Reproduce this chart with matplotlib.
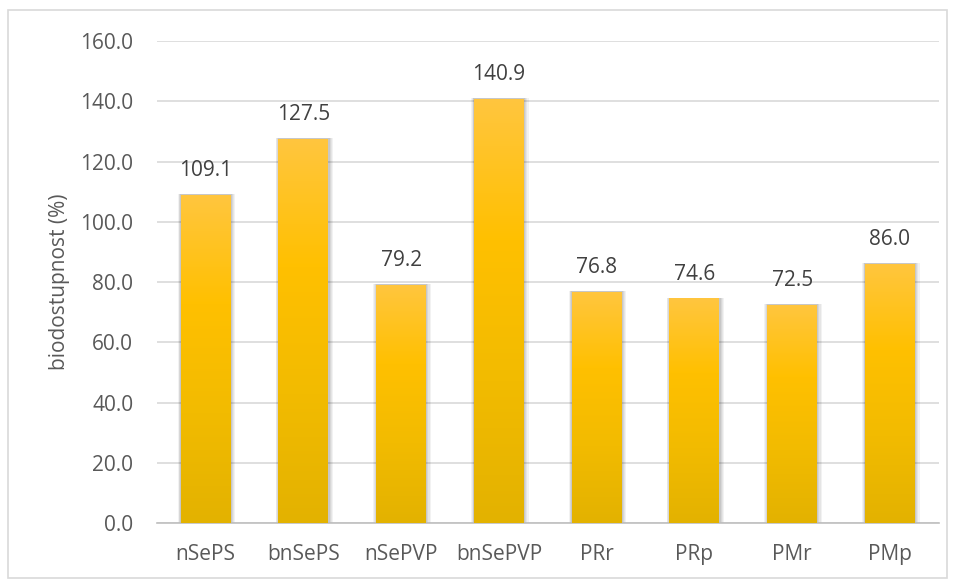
import matplotlib
matplotlib.use("Agg")
import matplotlib.pyplot as plt
import matplotlib.patches as mpatches
from matplotlib.colors import LinearSegmentedColormap
import numpy as np

plt.rcParams["font.family"] = ["Open Sans", "DejaVu Sans"]

# ── Data ─────────────────────────────────────────────────────────────────────
categories = ["nSePS", "bnSePS", "nSePVP", "bnSePVP", "PRr", "PRp", "PMr", "PMp"]
values = [109.1, 127.5, 79.2, 140.9, 76.8, 74.6, 72.5, 86.0]
y_ticks = [0, 20, 40, 60, 80, 100, 120, 140, 160]
y_label = "biodostupnost (%)"

# ── Figure ───────────────────────────────────────────────────────────────────
fig = plt.figure(figsize=(9.56, 5.8), dpi=100)
fig.patch.set_facecolor("white")
ax = fig.add_axes([0.164, 0.098, 0.818, 0.831])

# outer chart border
fig.add_artist(mpatches.Rectangle((8 / 956, 2 / 580), 939 / 956, 568 / 580,
                                  transform=fig.transFigure, fill=False,
                                  edgecolor="#D9D9D9", linewidth=1.2))

grad = LinearSegmentedColormap.from_list(
    "gold", ["#E3B200", "#F2BB00", "#FFC000", "#FFC63F"])
x = np.arange(len(categories))
bar_w = 0.51

bars = ax.bar(x, values, bar_w, color="none", zorder=3)
g = np.linspace(0, 1, 256).reshape(-1, 1)
for b in bars:
    x0, w, h = b.get_x(), b.get_width(), b.get_height()
    # soft shadow
    for k, a in enumerate([0.05, 0.05, 0.06, 0.07]):
        pad = (4 - k) * 0.012
        ax.add_patch(mpatches.Rectangle((x0 - pad * 0.6, 0), w + pad * 1.6, h + 0.3,
                                        facecolor="black", alpha=a, linewidth=0,
                                        zorder=2))
    im = ax.imshow(g, cmap=grad, origin="lower", aspect="auto",
                   extent=(x0, x0 + w, 0, h), zorder=3)
    im.set_clip_path(b)

for xi, v in zip(x, values):
    ax.annotate(f"{v:.1f}", xy=(xi, v), xytext=(0, 10), textcoords="offset points",
                ha="center", va="bottom", fontsize=15, color="#404040")

ax.set_xlim(-0.5, len(categories) - 0.5)
ax.set_ylim(0, 160)
ax.set_yticks(y_ticks)
ax.set_yticklabels([f"{t:.1f}" for t in y_ticks])
ax.set_xticks(x)
ax.set_xticklabels(categories)
ax.tick_params(axis="both", length=0, labelsize=15, colors="#595959")
ax.tick_params(axis="y", pad=17)
ax.tick_params(axis="x", pad=15)
ax.set_ylabel(y_label, fontsize=15, color="#595959", labelpad=7)

ax.grid(axis="y", color="#D9D9D9", linewidth=1.2, zorder=0)
ax.set_axisbelow(True)
for s in ["top", "right", "left"]:
    ax.spines[s].set_visible(False)
ax.spines["bottom"].set_color("#BFBFBF")
ax.spines["bottom"].set_linewidth(1.2)

plt.savefig("out.png", dpi=100, facecolor="white")
plt.close()
